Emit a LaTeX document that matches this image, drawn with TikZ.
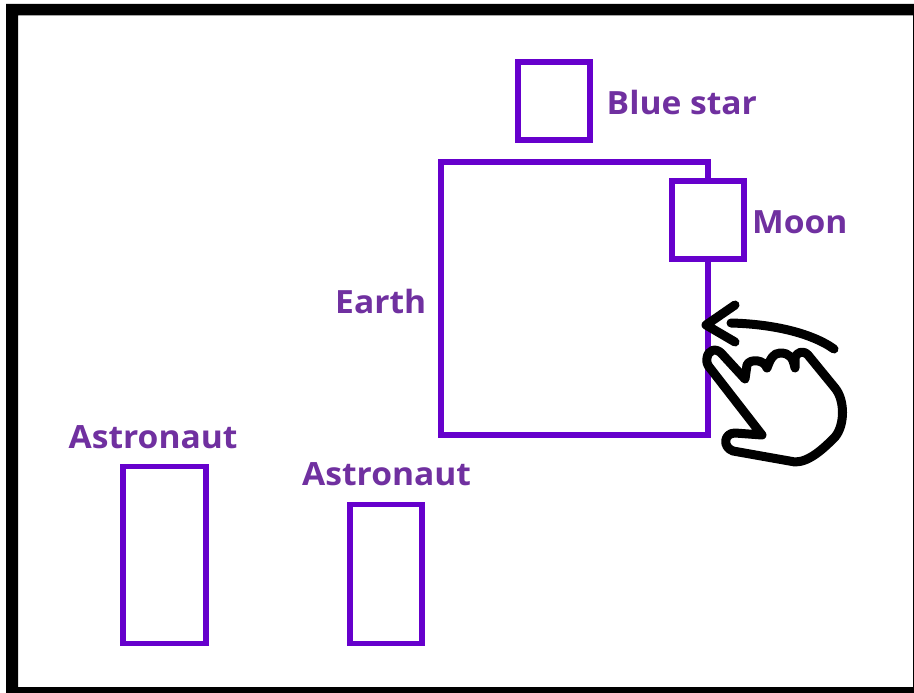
\documentclass[tikz,border=0pt]{standalone}
\usepackage{fontspec}
\setmainfont[FakeStretch=1.05]{Open Sans}
\definecolor{boxviolet}{HTML}{6600CC}
\definecolor{labelviolet}{HTML}{7030A0}
\tikzset{
  pbox/.style={draw=boxviolet,line width=5.5pt,fill=white,inner sep=0pt,outer sep=0pt,rectangle},
  plabel/.style={text=labelviolet,font=\fontsize{32}{36}\selectfont\bfseries,inner sep=0pt,anchor=base west},
  ink/.style={draw=black,line width=9pt,line cap=round,line join=round}
}
\begin{document}
\begin{tikzpicture}[x=1pt,y=-1pt]
\useasboundingbox (0,0) rectangle (914,693);
\fill[white] (0,0) rectangle (914,693);
\fill[black,even odd rule] (6,4) rectangle (914,693) (18,15.5) rectangle (913,687);
\node[pbox,minimum width=267pt,minimum height=273pt] (earth) at (574.5,298.5) {};
\node[pbox,minimum width=72pt,minimum height=78pt] (star) at (554,101) {};
\node[pbox,minimum width=72pt,minimum height=78pt] (moon) at (708,220) {};
\node[pbox,minimum width=83pt,minimum height=177pt] (astroA) at (164.5,555) {};
\node[pbox,minimum width=72pt,minimum height=139pt] (astroB) at (386,574) {};
\node[plabel] (lstar) at (606.5,114.5) {Blue star};
\node[plabel] (lmoon) at (752,233.5) {Moon};
\node[plabel] (learth) at (335,313.5) {Earth};
\node[plabel] (lastroA) at (68.5,448.5) {Astronaut};
\node[plabel] (lastroB) at (302,485.5) {Astronaut};
% swipe arrow
\draw[ink] (735,305) -- (706,325) -- (735,342);
\draw[ink] (731,323) .. controls (770,324) and (810,332) .. (834,349);
% hand
\draw[ink] (745,379) -- (722,354) .. controls (716,347) and (708,350) .. (707,358)
  .. controls (706,362) and (708,366) .. (710,368) -- (762,435) -- (735,433)
  .. controls (724,433) and (722,447) .. (733,451)
  -- (795,462) .. controls (810,462) and (825,447) .. (835,437)
  .. controls (845,425) and (845,400) .. (835,388) -- (808,355)
  .. controls (803,350) and (798,352) .. (795,357) -- (795,368)
  .. controls (793,358) and (790,353) .. (780,353)
  .. controls (773,353) and (770,360) .. (767,368)
  .. controls (765,360) and (750,358) .. (747,365) -- (745,379);
\end{tikzpicture}
\end{document}
